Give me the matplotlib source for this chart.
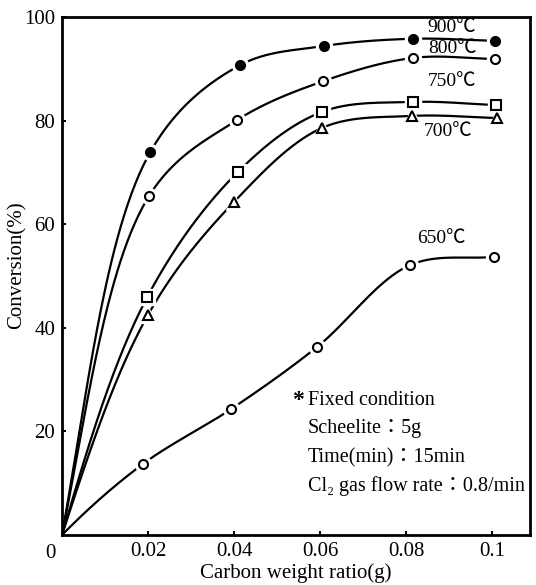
import numpy as np
import matplotlib
matplotlib.use("Agg")
import matplotlib.pyplot as plt

# ---- data ----
labels = ["900℃", "800℃", "750℃", "700℃", "650℃"]
x900 = [0.0205, 0.0414, 0.0609, 0.0816, 0.1007]
y900 = [73.9, 90.7, 94.4, 95.8, 95.4]
x800 = [0.0202, 0.0407, 0.0607, 0.0816, 0.1007]
y800 = [65.4, 80.1, 87.6, 92.1, 91.9]
x750 = [0.0198, 0.0409, 0.0605, 0.0816, 0.1009]
y750 = [45.9, 70.1, 81.7, 83.6, 83.0]
x700 = [0.0200, 0.0400, 0.0605, 0.0814, 0.1012]
y700 = [42.5, 64.3, 78.6, 80.9, 80.5]
x650 = [0.0188, 0.0393, 0.0593, 0.0809, 0.1005]
y650 = [13.7, 24.3, 36.3, 52.1, 53.7]
xticks = [0.02, 0.04, 0.06, 0.08, 0.1]
xticklabels = ["0.02", "0.04", "0.06", "0.08", "0.1"]
yticks = [20, 40, 60, 80, 100]
yticklabels = ["20", "40", "60", "80", "100"]
notes = ["Fixed condition", "Scheelite：5g", "Time(min)：15min", "Cl₂ gas flow rate：0.8/min"]

XLIM = (0, 0.1088)
YLIM = (0, 100)


def catmull_rom(x, y, sx, sy, npts=60):
    """Centripetal Catmull-Rom curve through the points (in screen-like units)."""
    P = np.column_stack([np.asarray(x, float) * sx, np.asarray(y, float) * sy])
    start = 3 * P[0] - 3 * P[1] + P[2]
    end = 2 * P[-1] - P[-2]
    P = np.vstack([start, P, end])
    out = []
    for i in range(1, len(P) - 2):
        p0, p1, p2, p3 = P[i - 1], P[i], P[i + 1], P[i + 2]
        t0 = 0.0
        t1 = t0 + np.linalg.norm(p1 - p0) ** 0.5
        t2 = t1 + np.linalg.norm(p2 - p1) ** 0.5
        t3 = t2 + np.linalg.norm(p3 - p2) ** 0.5
        t = np.linspace(t1, t2, npts)[:, None]
        a1 = (t1 - t) / (t1 - t0) * p0 + (t - t0) / (t1 - t0) * p1
        a2 = (t2 - t) / (t2 - t1) * p1 + (t - t1) / (t2 - t1) * p2
        a3 = (t3 - t) / (t3 - t2) * p2 + (t - t2) / (t3 - t2) * p3
        b1 = (t2 - t) / (t2 - t0) * a1 + (t - t0) / (t2 - t0) * a2
        b2 = (t3 - t) / (t3 - t1) * a2 + (t - t1) / (t3 - t1) * a3
        c = (t2 - t) / (t2 - t1) * b1 + (t - t1) / (t2 - t1) * b2
        out.append(c)
    C = np.vstack(out)
    return C[:, 0] / sx, C[:, 1] / sy


fig = plt.figure(figsize=(5.36, 5.85), dpi=100)
ax = fig.add_axes([62 / 536, 50 / 585, 468 / 536, 518 / 585])
serif = ["Liberation Serif", "Noto Sans CJK JP", "DejaVu Sans"]
sx = 468 / (XLIM[1] - XLIM[0])
sy = 518 / (YLIM[1] - YLIM[0])

series = [
    (x900, y900, "o", "black"),
    (x800, y800, "o", "white"),
    (x750, y750, "s", "white"),
    (x700, y700, "^", "white"),
    (x650, y650, "o", "white"),
]
for xs_, ys_, mk, fc in series:
    xx = np.concatenate([[0.0], xs_])
    yy = np.concatenate([[0.0], ys_])
    cx, cy = catmull_rom(xx, yy, sx, sy)
    ax.plot(cx, cy, color="black", lw=1.6, zorder=2, solid_capstyle="butt")
    ax.plot(xs_, ys_, linestyle="none", marker=mk, markersize=11.5,
            markerfacecolor="white", markeredgecolor="white", zorder=3)
    ax.plot(xs_, ys_, linestyle="none", marker=mk, markersize=6.5 if mk != "^" else 7,
            markerfacecolor=fc, markeredgecolor="black", markeredgewidth=1.5, zorder=4)

ax.set_xlim(*XLIM)
ax.set_ylim(*YLIM)
ax.set_xticks(xticks)
ax.set_xticklabels(xticklabels, fontfamily=serif, fontsize=15)
ax.set_yticks(yticks)
ax.set_yticklabels(yticklabels, fontfamily=serif, fontsize=15)
ax.tick_params(direction="in", length=3, width=1.5, pad=5)
for s in ax.spines.values():
    s.set_linewidth(2)
ax.text(-0.0028, -1.8, "0", ha="center", va="top", fontsize=15, fontfamily=serif)
ax.set_xlabel("Carbon weight ratio(g)", fontfamily=serif, fontsize=15, labelpad=2)
ax.set_ylabel("Conversion(%)", fontfamily=serif, fontsize=15)
ax.yaxis.set_label_coords(-0.076, 0.52)

label_pos = [(0.0905, 98.0), (0.0907, 94.0), (0.0907, 87.5), (0.0898, 77.8), (0.0882, 57.2)]
for lab, (lx, ly) in zip(labels, label_pos):
    ax.text(lx, ly, lab, ha="center", va="center", fontsize=14, fontfamily=serif)

ax.text(0.0535, 25.9, "*", ha="left", va="center", fontsize=17, fontweight="bold",
        fontfamily=serif)
ny = [25.9, 20.5, 14.9, 9.5]
for t, yv in zip(notes, ny):
    ax.text(0.0572, yv, t, ha="left", va="center", fontsize=14.5, fontfamily=serif)

fig.savefig("out.png", dpi=100)
